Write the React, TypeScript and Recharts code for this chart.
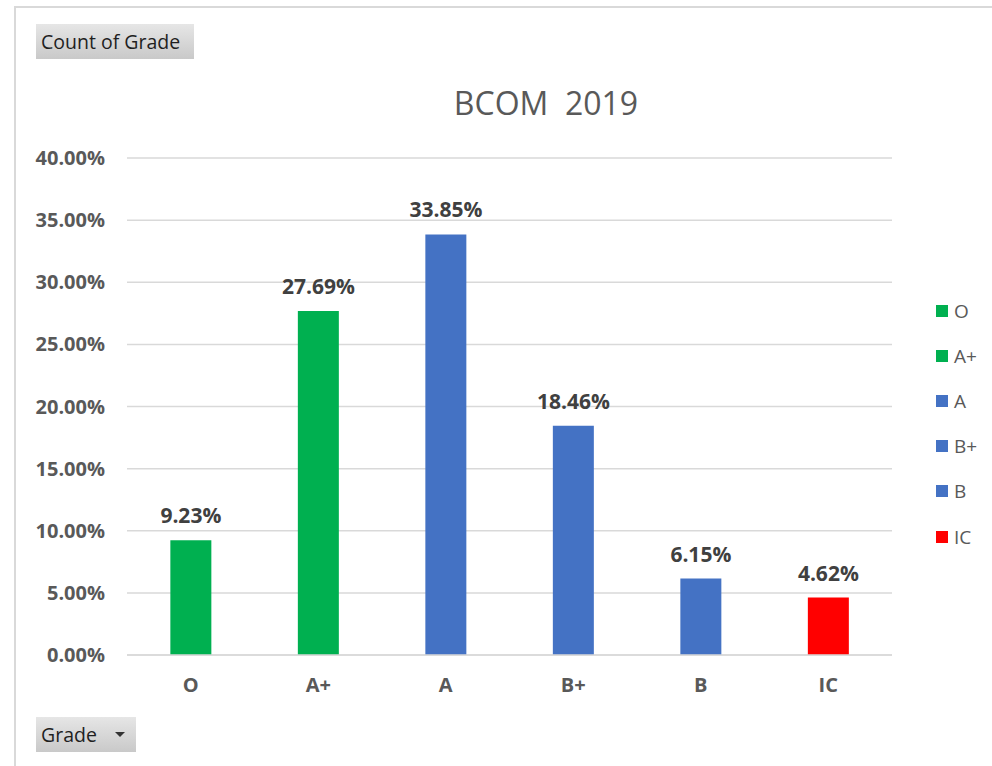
import { BarChart, Bar, XAxis, YAxis, CartesianGrid, Cell, LabelList, Legend } from "recharts";

const grades = ["O", "A+", "A", "B+", "B", "IC"];
const shares = [0.0923, 0.2769, 0.3385, 0.1846, 0.0615, 0.0462];
const gradeColors = ["#00B050", "#00B050", "#4472C4", "#4472C4", "#4472C4", "#FF0000"];
const yTicks = [0, 0.05, 0.1, 0.15, 0.2, 0.25, 0.3, 0.35, 0.4];

const data = grades.map((g, i) => ({ grade: g, share: shares[i], color: gradeColors[i] }));

const FONT = "'Open Sans', 'Noto Sans', sans-serif";
const pct = (v: number) => `${(v * 100).toFixed(2)}%`;

const buttonStyle: React.CSSProperties = {
  position: "absolute",
  background: "linear-gradient(#e6e6e6, #c9c9c9)",
  color: "#1f1f1f",
  fontFamily: FONT,
  fontSize: 19.5,
  lineHeight: "35px",
  paddingLeft: 5,
  boxSizing: "border-box",
  height: 35,
};

const GradeLegend = () => (
  <div style={{ fontFamily: FONT }}>
    {data.map((d) => (
      <div key={d.grade} style={{ display: "flex", alignItems: "center", height: 45.2 }}>
        <span style={{ width: 12, height: 12, background: d.color, marginRight: 6 }} />
        <span style={{ fontSize: 19, color: "#595959" }}>{d.grade}</span>
      </div>
    ))}
  </div>
);

export default function App() {
  return (
    <div style={{ position: "absolute", left: 0, top: 0, width: 992, height: 766, background: "#fff", overflow: "hidden" }}>
      <div style={{ position: "absolute", left: 14, top: 6, right: -2, bottom: -2, border: "2px solid #d9d9d9" }} />
      <div style={{ ...buttonStyle, left: 36, top: 24, width: 158 }}>Count of Grade</div>
      <div style={{ ...buttonStyle, left: 36, top: 717, width: 100 }}>
        Grade
        <span
          style={{
            position: "absolute",
            left: 79,
            top: 15,
            width: 0,
            height: 0,
            borderLeft: "5px solid transparent",
            borderRight: "5px solid transparent",
            borderTop: "5px solid #333",
          }}
        />
      </div>
      <div
        style={{
          position: "absolute",
          left: 127,
          width: 838,
          top: 78,
          textAlign: "center",
          fontFamily: FONT,
          fontSize: 32,
          color: "#595959",
          whiteSpace: "pre",
          lineHeight: "50px",
        }}
      >
        BCOM  2019
      </div>
      <div style={{ position: "absolute", left: 0, top: 0 }}>
        <BarChart
          width={992}
          height={766}
          data={data}
          margin={{ top: 158, right: 44, bottom: 61, left: 0 }}
          barCategoryGap="34%"
        >
          <CartesianGrid vertical={false} stroke="#d9d9d9" strokeWidth={1.5} />
          <XAxis
            dataKey="grade"
            height={50}
            tickSize={0}
            tickMargin={23}
            axisLine={{ stroke: "#d9d9d9", strokeWidth: 1.5 }}
            tick={{ fill: "#595959", fontSize: 20, fontWeight: 700, fontFamily: FONT }}
          />
          <YAxis
            width={127}
            domain={[0, 0.4]}
            ticks={yTicks}
            tickFormatter={pct}
            tickSize={0}
            tickMargin={22}
            axisLine={false}
            tick={{ fill: "#595959", fontSize: 20, fontWeight: 700, fontFamily: FONT }}
          />
          <Legend
            layout="vertical"
            align="right"
            verticalAlign="top"
            content={() => <GradeLegend />}
            wrapperStyle={{ position: "absolute", left: 936, top: 288, width: 56 }}
          />
          <Bar dataKey="share" isAnimationActive={false}>
            {data.map((d) => (
              <Cell key={d.grade} fill={d.color} />
            ))}
            <LabelList
              dataKey="share"
              position="top"
              offset={17}
              formatter={(v: any) => pct(Number(v))}
              style={{ fill: "#404040", fontSize: 21, fontWeight: 700, fontFamily: FONT }}
            />
          </Bar>
        </BarChart>
      </div>
    </div>
  );
}
